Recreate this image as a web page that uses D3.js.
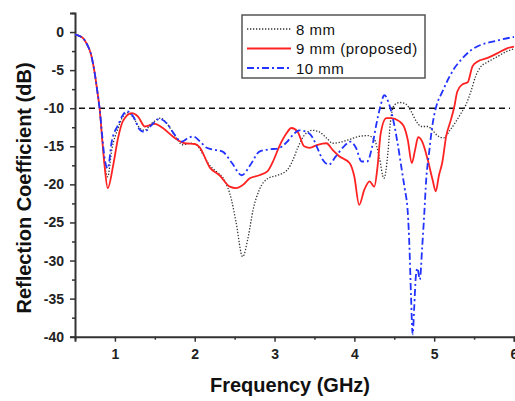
<!DOCTYPE html>
<html>
<head>
<meta charset="utf-8">
<script src="https://cdn.jsdelivr.net/npm/d3@7"></script>
<style>
  body { margin: 0; background: #fff; }
  svg { display: block; }
</style>
</head>
<body>
<svg width="515" height="401"></svg>
<script>
var svg = d3.select('svg');
var width = 515;
var height = 401;

// series: [frequency GHz, reflection dB]
var s8mm = [[0.5,-0.35],[0.55,-0.5],[0.6,-0.8],[0.65,-1.6],[0.7,-2.9],[0.75,-5.6],[0.78,-7.8],[0.81,-10.2],
	[0.84,-14],[0.87,-17.3],[0.91,-19.0],[0.96,-15.5],[1.04,-12.6],[1.1,-11.1],[1.16,-10.6],[1.23,-11.2],
	[1.31,-12.6],[1.37,-12.9],[1.46,-12.0],[1.57,-11.3],[1.65,-12.0],[1.75,-13.6],[1.85,-14.8],[1.94,-14.6],
	[2.02,-14.8],[2.1,-16.0],[2.18,-17.4],[2.27,-18.3],[2.37,-19.4],[2.46,-22.0],[2.52,-25.1],[2.6,-29.5],
	[2.67,-26.9],[2.73,-23.4],[2.81,-20.7],[2.92,-19.2],[3.04,-18.8],[3.16,-18.1],[3.23,-16.8],[3.29,-15.2],
	[3.37,-13.6],[3.47,-12.9],[3.56,-13.1],[3.65,-13.9],[3.73,-14.6],[3.81,-14.5],[3.94,-14.1],[4.06,-13.7],
	[4.17,-13.6],[4.25,-14.1],[4.31,-16.3],[4.37,-19.2],[4.42,-15.9],[4.45,-12.0],[4.5,-9.6],[4.57,-9.25],
	[4.65,-9.5],[4.71,-10.4],[4.78,-11.8],[4.84,-12.4],[4.92,-12.4],[4.98,-12.9],[5.04,-13.6],[5.12,-13.9],
	[5.19,-13.0],[5.27,-11.8],[5.34,-10.6],[5.4,-9.5],[5.46,-7.8],[5.52,-5.8],[5.58,-4.6],[5.66,-4.0],
	[5.78,-3.3],[5.92,-2.5],[6.0,-2.2]];

var s9mm = [[0.5,-0.35],[0.55,-0.5],[0.6,-0.8],[0.65,-1.6],[0.7,-2.9],[0.75,-5.6],[0.78,-7.8],[0.81,-10.2],
	[0.84,-14],[0.87,-17.5],[0.91,-20.5],[0.98,-17.4],[1.04,-13.9],[1.1,-11.7],[1.21,-10.65],[1.29,-11.1],
	[1.375,-12.4],[1.5,-12.05],[1.6,-12.6],[1.75,-13.9],[1.875,-14.6],[2.0,-14.7],[2.06,-15.1],[2.19,-17.8],
	[2.31,-18.8],[2.44,-20.3],[2.52,-20.5],[2.6,-20.1],[2.69,-19.2],[2.81,-18.8],[2.91,-18.3],[2.98,-17.0],
	[3.06,-15.0],[3.15,-13.3],[3.21,-12.6],[3.29,-13.1],[3.37,-15.0],[3.44,-15.2],[3.54,-14.8],[3.65,-14.6],
	[3.73,-15.5],[3.81,-16.3],[3.94,-17.2],[4.0,-19.0],[4.06,-22.7],[4.125,-20.7],[4.19,-19.6],[4.25,-20.3],
	[4.29,-17.7],[4.33,-13.3],[4.4,-11.3],[4.46,-11.3],[4.56,-11.7],[4.62,-12.4],[4.67,-14.2],[4.72,-17.2],
	[4.76,-15.5],[4.8,-13.8],[4.85,-14.4],[4.92,-16.8],[4.98,-19.4],[5.02,-20.9],[5.06,-18.8],[5.1,-17.2],
	[5.15,-13.7],[5.21,-11.5],[5.25,-9.9],[5.29,-7.8],[5.35,-6.9],[5.42,-6.6],[5.48,-4.5],[5.54,-3.9],
	[5.67,-3.4],[5.79,-2.8],[5.92,-2.1],[6.0,-1.9]];

var s10mm = [[0.5,-0.35],[0.55,-0.5],[0.6,-0.8],[0.65,-1.6],[0.7,-2.9],[0.75,-5.6],[0.78,-7.8],[0.81,-10.2],
	[0.84,-13.5],[0.87,-16.5],[0.91,-17.9],[0.96,-14.4],[1.04,-12.2],[1.1,-10.9],[1.15,-10.4],[1.23,-11.1],
	[1.31,-12.8],[1.37,-13.1],[1.46,-12.2],[1.56,-11.4],[1.65,-12.0],[1.75,-13.5],[1.83,-14.4],[1.92,-13.9],
	[1.98,-13.7],[2.06,-14.3],[2.15,-15.2],[2.27,-15.5],[2.35,-15.7],[2.46,-17.1],[2.59,-18.8],[2.7,-17.4],
	[2.81,-15.7],[2.94,-15.4],[3.04,-15.3],[3.15,-14.5],[3.23,-13.5],[3.31,-12.9],[3.4,-13.1],[3.48,-13.9],
	[3.54,-15.3],[3.6,-16.7],[3.68,-17.4],[3.77,-16.3],[3.87,-15.0],[3.95,-14.4],[4.02,-15.2],[4.09,-17.0],
	[4.16,-17.0],[4.22,-15.2],[4.27,-12.4],[4.33,-9.6],[4.375,-8.3],[4.43,-9.3],[4.48,-11.2],[4.54,-14.5],
	[4.6,-18.5],[4.63,-20.5],[4.67,-23.8],[4.69,-28.2],[4.71,-34.7],[4.73,-39.7],[4.75,-36.1],[4.77,-32.1],
	[4.79,-31.0],[4.82,-32.5],[4.85,-28.2],[4.875,-24],[4.9,-19.4],[4.94,-15.5],[4.97,-12.8],[5.0,-10.9],
	[5.04,-9.3],[5.1,-7.9],[5.17,-6.3],[5.25,-4.8],[5.35,-3.5],[5.46,-2.4],[5.58,-1.7],[5.72,-1.3],
	[5.85,-0.95],[6.0,-0.65]];

var legendLabels = ['8 mm', '9 mm (proposed)', '10 mm'];
var xTicks = [1, 2, 3, 4, 5, 6];
var yTicks = [0, -5, -10, -15, -20, -25, -30, -35, -40];
var threshold = -10;

var mLeft = 75, mRight = 514, mTop = 13, mBottom = 336.7;
var font = 'Arial, "Liberation Sans", sans-serif';

var x = d3.scaleLinear().domain([0.5, 6]).range([mLeft, mRight]);
var y = d3.scaleLinear().domain([-40, 2.5]).range([mBottom, mTop]);

var styles = [
	{data: s8mm, color: '#333', w: 1.3, dash: '1.3,1.7'},
	{data: s9mm, color: '#ff2222', w: 1.8, dash: null},
	{data: s10mm, color: '#2233ff', w: 1.8, dash: '7,3,2,3'}
];

// axes
var xAxis = d3.axisBottom(x).tickValues(d3.range(0.5, 6.01, 0.5))
	.tickSize(5).tickPadding(7)
	.tickFormat(function(d){ return xTicks.indexOf(d) >= 0 ? d : ''; });
var gx = svg.append('g').attr('transform', 'translate(0,' + mBottom + ')').call(xAxis);
gx.selectAll('.tick line').attr('y2', function(d){ return d % 1 === 0 ? 5 : 3; });

var yAxis = d3.axisLeft(y).tickValues(d3.range(-40, 2.51, 2.5))
	.tickSize(5).tickPadding(6)
	.tickFormat(function(d){ return yTicks.indexOf(d) >= 0 ? String(d) : ''; });
var gy = svg.append('g').attr('transform', 'translate(' + mLeft + ',0)').call(yAxis);
gy.selectAll('.tick line').attr('x2', function(d){ return d % 5 === 0 ? -5 : -3; });

svg.selectAll('.domain').attr('stroke', '#333').attr('stroke-width', 2);
svg.selectAll('.tick line').attr('stroke', '#333').attr('stroke-width', 1.5);
svg.selectAll('.tick text')
	.attr('font-family', font)
	.attr('font-weight', 'bold')
	.attr('font-size', '14px')
	.attr('fill', '#222');
gx.attr('font-size', null).attr('font-family', null);
gy.attr('font-size', null).attr('font-family', null);

// threshold line
svg.append('line')
	.attr('x1', x(0.55)).attr('x2', x(5.95))
	.attr('y1', y(threshold)).attr('y2', y(threshold))
	.attr('stroke', '#111').attr('stroke-width', 1.5)
	.attr('stroke-dasharray', '6,4');

// curves
var line = d3.line()
	.x(function(d){ return x(d[0]); })
	.y(function(d){ return y(d[1]); })
	.curve(d3.curveMonotoneX);

svg.selectAll('path.series')
	.data(styles)
	.enter()
	.append('path')
	.attr('class', 'series')
	.attr('d', function(d){ return line(d.data); })
	.attr('fill', 'none')
	.attr('stroke', function(d){ return d.color; })
	.attr('stroke-width', function(d){ return d.w; })
	.attr('stroke-dasharray', function(d){ return d.dash; });

// legend
var lg = svg.append('g');
lg.append('rect')
	.attr('x', 242).attr('y', 15).attr('width', 183).attr('height', 63)
	.attr('fill', '#fff').attr('stroke', '#555').attr('stroke-width', 1.5);

var rows = lg.selectAll('g.row')
	.data(styles)
	.enter()
	.append('g')
	.attr('transform', function(d, i){ return 'translate(0,' + (29 + i * 19.5) + ')'; });

rows.append('line')
	.attr('x1', 247).attr('x2', 291)
	.attr('stroke', function(d){ return d.color; })
	.attr('stroke-width', function(d){ return d.w; })
	.attr('stroke-dasharray', function(d){ return d.dash; });

rows.append('text')
	.attr('x', 296).attr('y', 5.5)
	.attr('font-family', font)
	.attr('font-size', '15px')
	.attr('letter-spacing', '0.5px')
	.attr('fill', '#111')
	.text(function(d, i){ return legendLabels[i]; });

// axis titles
svg.append('text')
	.attr('x', 290).attr('y', 392)
	.attr('text-anchor', 'middle')
	.attr('font-family', font)
	.attr('font-weight', 'bold').attr('font-size', '20px')
	.attr('fill', '#111')
	.text('Frequency (GHz)');

svg.append('text')
	.attr('transform', 'translate(31,188) rotate(-90)')
	.attr('text-anchor', 'middle')
	.attr('font-family', font)
	.attr('font-weight', 'bold').attr('font-size', '20px')
	.attr('fill', '#111')
	.text('Reflection Coefficient (dB)');
</script>
</body>
</html>
